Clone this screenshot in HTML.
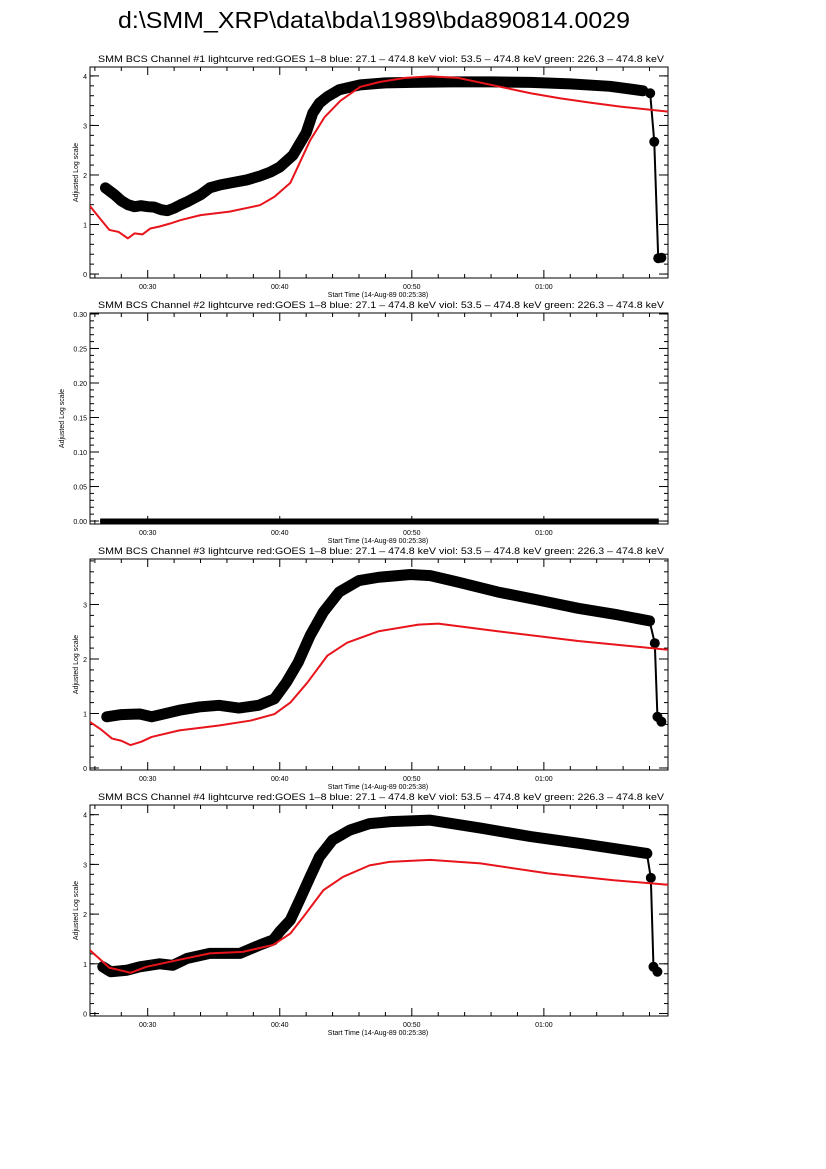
<!DOCTYPE html>
<html><head><meta charset="utf-8"><style>
html,body{margin:0;padding:0;background:#fff;}
svg{display:block;font-family:"Liberation Sans",sans-serif;}
</style></head><body>
<svg id="chart" width="826" height="1169" viewBox="0 0 826 1169" xmlns="http://www.w3.org/2000/svg">
<rect width="826" height="1169" fill="#fff"/>
<text x="118" y="28" font-size="23" textLength="512" lengthAdjust="spacingAndGlyphs">d:\SMM_XRP\data\bda\1989\bda890814.0029</text>
</svg>
<script>
// Time in minutes after 00:00 UT; values on Adjusted Log scale
const ch1BlackT = [26.8,27.5,28.0,28.5,29.0,29.5,30.0,30.5,31.0,31.5,32.0,32.5,33.0,34.0,34.7,35.5,36.5,37.5,38.5,39.3,40.0,41.0,42.0,42.5,43.0,43.6,44.5,46.1,48.0,50.0,53.0,56.0,59.0,62.0,65.0,67.5,68.05,68.36,68.66];
const ch1BlackV = [1.74,1.6,1.48,1.4,1.36,1.38,1.36,1.35,1.3,1.28,1.33,1.4,1.46,1.6,1.74,1.8,1.85,1.9,1.98,2.06,2.16,2.4,2.85,3.25,3.45,3.58,3.72,3.82,3.86,3.87,3.88,3.88,3.87,3.84,3.79,3.7,3.65,2.67,0.32];
const ch1BlackT2 = [68.9];
const ch1BlackV2 = [0.33];
const ch1RedT = [25.6,26.3,27.1,27.8,28.5,29.0,29.6,30.2,30.9,31.7,32.5,34.0,36.2,38.5,39.6,40.8,41.5,42.3,43.4,44.6,46.1,47.6,49.5,51.4,53.5,56.7,59.0,61.2,63.5,65.8,69.4];
const ch1RedV = [1.38,1.15,0.89,0.85,0.72,0.82,0.8,0.92,0.96,1.02,1.09,1.19,1.26,1.39,1.56,1.84,2.24,2.7,3.17,3.5,3.78,3.88,3.96,3.99,3.96,3.78,3.65,3.55,3.46,3.38,3.28];
const ch2BlackT = [26.4,68.7];
const ch2BlackV = [0,0];
const ch3BlackT = [26.9,28.0,29.4,30.3,31.2,32.4,33.9,35.4,36.9,38.4,39.6,40.5,41.4,42.3,43.3,44.5,46.0,47.5,49.9,51.4,53.5,56.5,59.6,62.6,65.6,68.0,68.4,68.6,68.9];
const ch3BlackV = [0.94,0.98,0.99,0.94,0.99,1.06,1.12,1.15,1.1,1.15,1.27,1.57,1.94,2.43,2.86,3.23,3.44,3.5,3.55,3.53,3.41,3.23,3.08,2.93,2.81,2.7,2.29,0.94,0.85];
const ch3RedT = [25.6,26.5,27.3,28.0,28.7,29.5,30.3,32.4,35.4,37.8,39.6,40.8,42.1,43.6,45.1,47.5,50.5,52.0,56.5,62.6,69.4];
const ch3RedV = [0.85,0.7,0.54,0.5,0.42,0.48,0.57,0.69,0.78,0.87,0.99,1.2,1.57,2.06,2.3,2.51,2.63,2.65,2.51,2.33,2.17];
const ch4BlackT = [26.6,27.2,28.4,29.4,30.9,31.9,33.0,34.7,36.0,37.0,38.5,39.5,40.0,40.8,41.5,42.3,43.0,44.0,45.3,46.8,48.4,51.4,55.2,59.0,62.8,67.8,68.1,68.3,68.6];
const ch4BlackV = [0.94,0.84,0.87,0.94,1.0,0.97,1.11,1.21,1.21,1.21,1.38,1.48,1.65,1.88,2.28,2.75,3.15,3.49,3.69,3.82,3.86,3.89,3.73,3.56,3.42,3.22,2.73,0.94,0.84];
const ch4RedT = [25.6,27.1,28.7,29.9,32.2,34.7,37.2,39.5,40.8,41.8,43.3,44.8,46.8,48.3,51.4,55.2,60.3,65.3,69.4];
const ch4RedV = [1.28,0.92,0.82,0.94,1.07,1.21,1.24,1.38,1.61,1.95,2.48,2.75,2.98,3.05,3.09,3.02,2.82,2.68,2.59];
const xTickMinutes = [30,40,50,60];
const xTickLabels = ["00:30","00:40","00:50","01:00"];
const yTicks1 = [0,1,2,3,4];
const yTicks2 = [0,0.05,0.10,0.15,0.20,0.25,0.30];
const yTicks2Labels = ["0.00","0.05","0.10","0.15","0.20","0.25","0.30"];

const svg = document.getElementById('chart');
const NS = 'http://www.w3.org/2000/svg';
const X0 = 90, X1 = 668, TMIN = 25.63, TMAX = 69.4;
function xs(t){ return X0 + (t - TMIN) / (TMAX - TMIN) * (X1 - X0); }
function mk(tag, attrs, parent){ const e = document.createElementNS(NS, tag); for (const k in attrs) e.setAttribute(k, attrs[k]); (parent || svg).appendChild(e); return e; }

const panels = [
 {n:1, top:67, bot:278, vmin:-0.08, vmax:4.18, ticks:yTicks1, labels:yTicks1.map(String), minor:0.2, black:[ch1BlackT,ch1BlackV], black2:[ch1BlackT2,ch1BlackV2], red:[ch1RedT,ch1RedV]},
 {n:2, top:313, bot:524, vmin:-0.0043, vmax:0.3014, ticks:yTicks2, labels:yTicks2Labels, minor:0.01, black:[ch2BlackT,ch2BlackV], red:null, flat:true},
 {n:3, top:559, bot:770, vmin:-0.037, vmax:3.835, ticks:[0,1,2,3], labels:["0","1","2","3"], minor:0.2, black:[ch3BlackT,ch3BlackV], red:[ch3RedT,ch3RedV]},
 {n:4, top:805, bot:1016, vmin:-0.05, vmax:4.195, ticks:yTicks1, labels:yTicks1.map(String), minor:0.2, black:[ch4BlackT,ch4BlackV], red:[ch4RedT,ch4RedV]}
];

panels.forEach(p => {
  const g = mk('g', {});
  
  
  const ys = v => p.bot - (v - p.vmin) / (p.vmax - p.vmin) * (p.bot - p.top);
  const clipId = 'clip' + p.n;
  const cp = mk('clipPath', {id: clipId}, g); mk('rect', {x:X0, y:p.top, width:X1-X0, height:p.bot-p.top}, cp);
  const t = mk('text', {x:98, y:p.top-5, 'font-size':9, textLength:566, lengthAdjust:'spacingAndGlyphs'}, g);
  t.textContent = 'SMM BCS Channel #' + p.n + ' lightcurve  red:GOES 1\u20138  blue: 27.1 \u2013 474.8 keV  viol: 53.5 \u2013 474.8 keV  green: 226.3 \u2013 474.8 keV';
  
  
  const box = mk('rect', {x:X0, y:p.top, width:X1-X0, height:p.bot-p.top, fill:'none', stroke:'#000', 'stroke-width':1}, g);
  
  
  for (let m = 26; m <= 69; m += 2) {
    const x = xs(m); const major = m % 10 === 0; const L = major ? 8 : 4;
    mk('line', {x1:x, x2:x, y1:p.bot, y2:p.bot-L, stroke:'#000'}, g);
    mk('line', {x1:x, x2:x, y1:p.top, y2:p.top+L, stroke:'#000'}, g);
  }
  xTickMinutes.forEach((m, i) => {
    const tl = mk('text', {x:xs(m), y:p.bot+11, 'font-size':7, 'text-anchor':'middle'}, g);
    tl.textContent = xTickLabels[i];
    
    
  });
  const xt = mk('text', {x:378, y:p.bot+19, 'font-size':7, 'text-anchor':'middle'}, g);
  xt.textContent = 'Start Time (14-Aug-89 00:25:38)';
  
  
  for (let v = 0; v <= p.vmax + 1e-9; v += p.minor) {
    const y = ys(v); if (y < p.top) break;
    mk('line', {x1:X0, x2:X0+4, y1:y, y2:y, stroke:'#000'}, g);
    mk('line', {x1:X1, x2:X1-4, y1:y, y2:y, stroke:'#000'}, g);
  }
  p.ticks.forEach((v, i) => {
    const y = ys(v);
    mk('line', {x1:X0, x2:X0+9, y1:y, y2:y, stroke:'#000'}, g);
    mk('line', {x1:X1, x2:X1-9, y1:y, y2:y, stroke:'#000'}, g);
    const tl = mk('text', {x:X0-3, y:y+3, 'font-size':7, 'text-anchor':'end'}, g);
    tl.textContent = p.labels[i];
    
    
  });
  const yc = (p.top + p.bot) / 2, yx = p.n === 2 ? 64 : 78;
  const yt = mk('text', {x:yx, y:yc, 'font-size':7, 'text-anchor':'middle', transform:'rotate(-90 '+yx+' '+yc+')'}, g);
  yt.textContent = 'Adjusted Log scale';
  
  
  const dg = mk('g', {'clip-path':'url(#'+clipId+')'}, g);
  const [bt, bv] = p.black;
  const allT = bt.concat(p.black2 ? p.black2[0] : []), allV = bv.concat(p.black2 ? p.black2[1] : []);
  const ptsAll = allT.map((tt, i) => xs(tt) + ',' + ys(allV[i])).join(' ');
  const thin = mk('polyline', {points:ptsAll, fill:'none', stroke:'#000', 'stroke-width':2}, dg);
  
  
  if (p.flat) {
    const b = mk('polyline', {points:ptsAll, fill:'none', stroke:'#000', 'stroke-width':5}, dg);
    
    
  } else {
    const nBand = bt.length - 3;
    const bandPts = bt.slice(0, nBand).map((tt, i) => xs(tt) + ',' + ys(bv[i])).join(' ');
    const band = mk('polyline', {points:bandPts, fill:'none', stroke:'#000', 'stroke-width':11, 'stroke-linejoin':'round', 'stroke-linecap':'round'}, dg);
    
    
    allT.forEach((tt, i) => {
      const c = mk('circle', {cx:xs(tt), cy:ys(allV[i]), r:5, fill:'#000'}, dg);
      
      
    });
  }
  if (p.red) {
    const [rt, rv] = p.red;
    const r = mk('polyline', {points:rt.map((tt, i) => xs(tt) + ',' + ys(rv[i])).join(' '), fill:'none', stroke:'#e8141b', 'stroke-width':2, 'stroke-linejoin':'round'}, dg);
    
    
  }
});
</script>
</body></html>
